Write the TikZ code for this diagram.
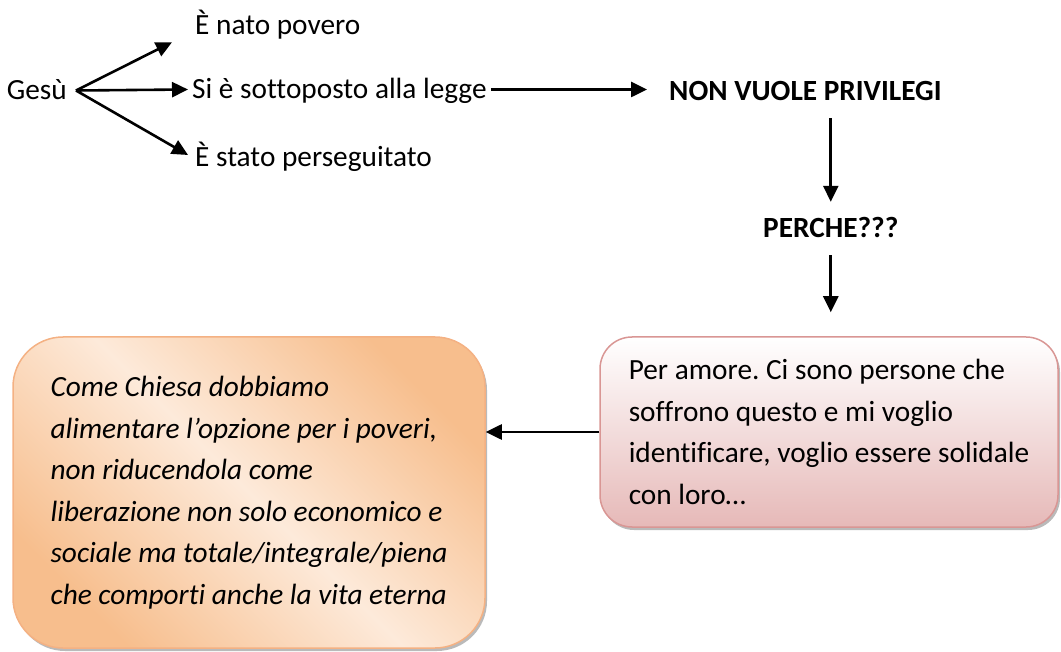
\documentclass[tikz,border=0pt]{standalone}
\usepackage{fontspec}
\setmainfont{Carlito}[Ligatures=NoCommon]
\usetikzlibrary{arrows.meta,shadows}

\definecolor{peach}{HTML}{F7BE8D}
\definecolor{peachlight}{HTML}{FDEADA}
\definecolor{peachline}{HTML}{F4B183}
\definecolor{rosebottom}{HTML}{E6B9B8}
\definecolor{roseline}{HTML}{D99694}

\newcommand{\diagfont}{\fontsize{29.3}{41.5}\selectfont}
\frenchspacing

\begin{document}
\begin{tikzpicture}[
    x=1pt, y=-1pt,
    word/.style={font=\diagfont, inner xsep=4pt, inner ysep=2pt,
        text height=27pt, text depth=8pt},
    keyword/.style={word, font=\diagfont\bfseries, inner xsep=22pt, inner ysep=9pt},
    card/.style={rounded corners=#1, line width=1.5pt, align=left,
        drop shadow={shadow xshift=2pt, shadow yshift=-3pt, fill=black!45, opacity=.6}},
    link/.style={line width=2.6pt, -{Triangle[length=16pt,width=15pt]}}
]
    \useasboundingbox (0,0) rectangle (1061,652);

    \node[word, anchor=base east, inner xsep=9pt] (gesu) at (76,100) {Gesù};
    \node[word, anchor=base west] (nato) at (191,35) {È nato povero};
    \node[word, anchor=base west] (legge) at (188,99) {Si è sottoposto alla legge};
    \node[word, anchor=base west] (perseg) at (191,167) {È stato perseguitato};
    \node[keyword, anchor=base west] (privilegi) at (647,101) {NON VUOLE PRIVILEGI};
    \node[keyword, anchor=base west] (perche) at (741,238) {PERCHE???};

    \node[card=32pt, draw=roseline, top color=white, bottom color=rosebottom,
        minimum width=458pt, minimum height=190pt, font=\diagfont] (amore) at (829,432)
        {Per amore. Ci sono persone che\\
         soffrono questo e mi voglio\\
         identificare, voglio essere solidale\\
         con loro…};
    \node[card=50pt, draw=peachline, top color=peach, bottom color=peach,
        middle color=peachlight, shading angle=-45, minimum width=472pt,
        minimum height=311pt, font=\diagfont\itshape] (chiesa) at (249,492.5)
        {Come Chiesa dobbiamo\\
         alimentare l’opzione per i poveri,\\
         non riducendola come\\
         liberazione non solo economico e\\
         sociale ma totale/integrale/piena\\
         che comporti anche la vita eterna};

    \draw[link] (gesu.east) -- ([xshift=-19pt,yshift=3pt]nato.south west);
    \draw[link] (gesu.east) -- (legge.west);
    \draw[link] (gesu.east) -- ([xshift=-3pt,yshift=2.5pt]perseg.west);
    \draw[link] (legge.east) -- (legge.east -| privilegi.west);
    \draw[link] (privilegi.south -| perche.north) -- (perche.north);
    \draw[link, shorten >=24pt] (perche.south) -- (perche.south |- amore.north);
    \draw[link] (amore.west) -- (amore.west -| chiesa.east);
\end{tikzpicture}
\end{document}
